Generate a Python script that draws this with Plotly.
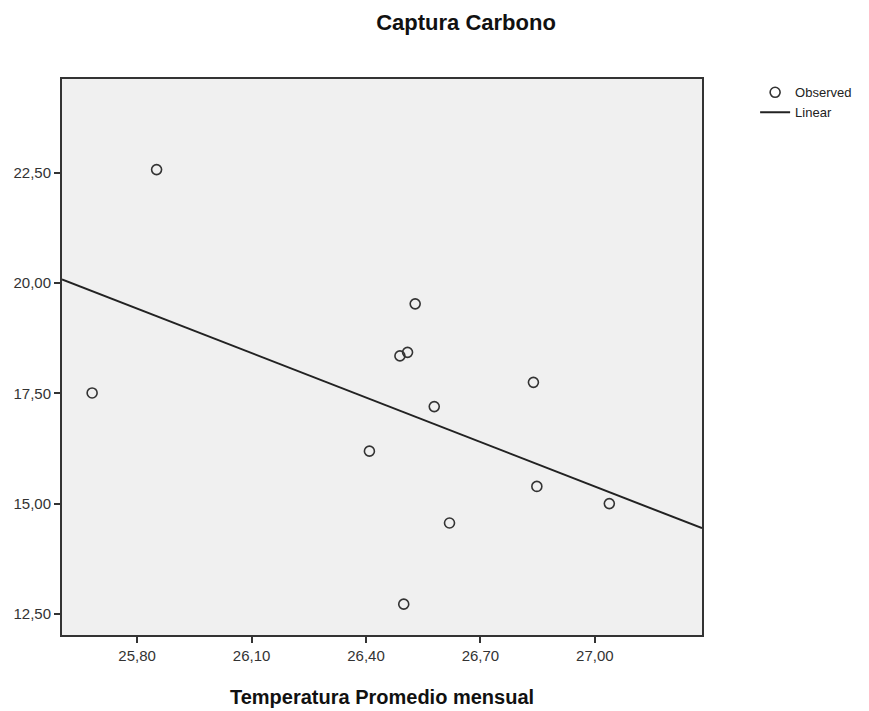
import numpy as np
import plotly.graph_objects as go

temperatura = [25.851, 25.682, 26.529, 26.489, 26.509, 26.839,
               26.579, 26.409, 26.848, 26.619, 26.499, 27.038]
captura = [22.575, 17.51, 19.53, 18.35, 18.43, 17.75,
           17.20, 16.19, 15.39, 14.56, 12.72, 15.00]

x_tickvals = [25.8, 26.1, 26.4, 26.7, 27.0]
x_ticktext = ["25,80", "26,10", "26,40", "26,70", "27,00"]
y_tickvals = [12.5, 15.0, 17.5, 20.0, 22.5]
y_ticktext = ["12,50", "15,00", "17,50", "20,00", "22,50"]

x_range = [25.603, 27.281]
y_range = [12.02, 24.63]

# Linear fit
slope, intercept = np.polyfit(temperatura, captura, 1)
fit_x = np.array(x_range)
fit_y = slope * fit_x + intercept

fig = go.Figure()
fig.add_trace(go.Scatter(
    x=temperatura, y=captura, mode="markers", name="Observed",
    marker=dict(symbol="circle-open", size=10, color="#333333",
                line=dict(width=1.6, color="#333333")),
    cliponaxis=False,
))
fig.add_trace(go.Scatter(
    x=fit_x, y=fit_y, mode="lines", name="Linear",
    line=dict(color="#222222", width=2),
))

axis_common = dict(
    showline=True, linecolor="#333333", linewidth=2, mirror=True,
    ticks="outside", ticklen=6, tickwidth=2, tickcolor="#333333",
    showgrid=False, zeroline=False, automargin=False,
    tickfont=dict(family="Liberation Sans, Arial, sans-serif", size=15, color="#333333"),
)

fig.update_xaxes(range=x_range, tickvals=x_tickvals, ticktext=x_ticktext,
                 title=dict(text="<b>Temperatura Promedio mensual</b>", standoff=27,
                            font=dict(family="Liberation Sans, Arial, sans-serif", size=20, color="#111111")),
                 **axis_common)
fig.update_yaxes(range=y_range, tickvals=y_tickvals, ticktext=y_ticktext, **axis_common)

fig.update_layout(
    width=861, height=703,
    margin=dict(l=54, r=165, t=71, b=76),
    paper_bgcolor="white", plot_bgcolor="#f0f0f0",
    title=dict(text="<b>Captura Carbono</b>", x=0.532, xanchor="center",
               y=0.980, yanchor="middle",
               font=dict(family="Liberation Sans, Arial, sans-serif", size=22, color="#111111")),
    legend=dict(x=1.083, xanchor="left", y=1.003, yanchor="top",
                xref="paper", yref="paper",
                font=dict(family="Liberation Sans, Arial, sans-serif", size=13, color="#222222"),
                bgcolor="rgba(0,0,0,0)", tracegroupgap=0, itemwidth=30),
    showlegend=True,
)

fig.write_html("out.html")
